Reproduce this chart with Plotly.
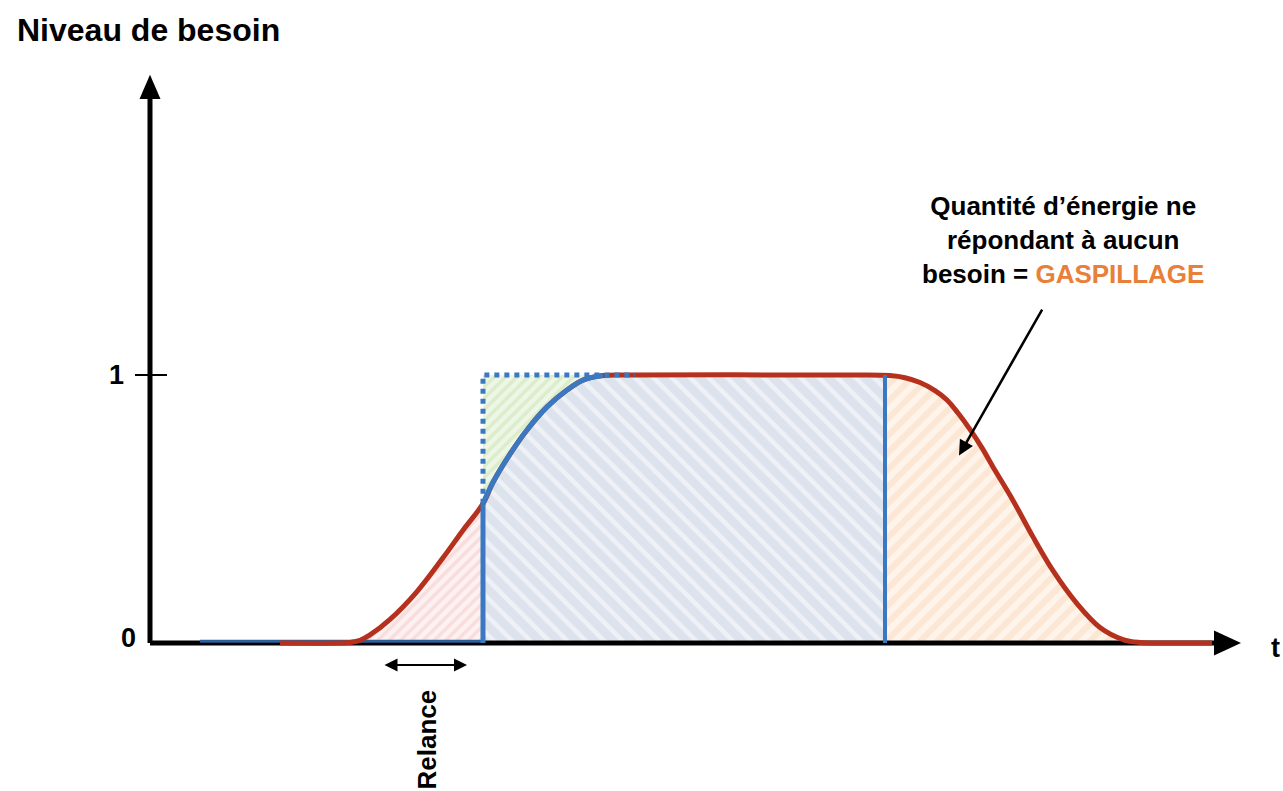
import plotly.graph_objects as go

# ---- data (time t in arbitrary units, level 0..1) ----
demand_t = [1.30, 1.90, 2.00, 2.10, 2.20, 2.40, 2.67, 2.93, 3.13, 3.33, 3.43, 3.60, 3.77, 3.97, 4.17, 4.33, 4.53,
            4.80, 6.90, 7.10, 7.40, 7.55, 7.70, 7.85, 7.97, 8.08, 8.20, 8.32, 8.43, 8.63, 8.83, 9.03, 9.27,
            9.50, 9.73, 9.90, 10.10, 10.62]
demand_level = [0, 0, 0.002, 0.010, 0.030, 0.088, 0.192, 0.318, 0.421, 0.52, 0.600, 0.705, 0.795, 0.881, 0.944,
                0.981, 0.998, 1.0, 1.0, 1.0, 0.998, 0.990, 0.972, 0.942, 0.907, 0.858, 0.797, 0.728, 0.657,
                0.532, 0.396, 0.270, 0.147, 0.058, 0.013, 0.002, 0, 0]

baseline_t = [0.50, 3.33]          # supply flat at zero before relance
relance_t = [2.33, 3.17]           # "Relance" double arrow span
rise_start_t = 1.90                # demand starts rising
supply_on_t = 3.33                 # supply switches on
supply_full_t = 4.53               # supply reaches full level
supply_off_t = 7.35                # supply switched off
demand_end_t = 10.10               # demand back to zero
ideal_end_t = 4.85                 # dotted ideal supply end
tick_levels = [0, 1]
tick_labels = ["0", "1"]

RED = "#b5311e"
BLUE = "#3b78c2"
FONT = "Liberation Sans, Arial, Helvetica, sans-serif"
SMOOTH = 1.0

def subset(t0, t1):
    xs, ys = [], []
    for t, v in zip(demand_t, demand_level):
        if t0 <= t <= t1:
            xs.append(t)
            ys.append(v)
    return xs, ys

fig = go.Figure()

# pink fill (demand not yet served)
px_, py_ = subset(rise_start_t, supply_on_t)
fig.add_trace(go.Scatter(x=px_, y=py_, mode="lines", line=dict(width=0, shape="spline", smoothing=SMOOTH),
                         fill="tozeroy",
                         fillpattern=dict(shape="/", bgcolor="#fdf1f1", fgcolor="#f5caca", size=8, solidity=0.45),
                         hoverinfo="skip", showlegend=False))

# green fill (between ideal supply and real supply)
sx, sy = subset(supply_on_t, supply_full_t)
fig.add_trace(go.Scatter(x=sx, y=sy, mode="lines", line=dict(width=0, shape="spline", smoothing=SMOOTH),
                         hoverinfo="skip", showlegend=False))
fig.add_trace(go.Scatter(x=[supply_on_t, supply_full_t], y=[1, 1], mode="lines", line=dict(width=0),
                         fill="tonexty",
                         fillpattern=dict(shape="/", bgcolor="#eef7e6", fgcolor="#c9e3b3", size=8, solidity=0.45),
                         hoverinfo="skip", showlegend=False))

# blue-gray fill (useful supply)
bx, by = subset(supply_on_t, supply_off_t)
bx = bx + [supply_off_t]
by = by + [1.0]
fig.add_trace(go.Scatter(x=bx, y=by, mode="lines", line=dict(width=0, shape="spline", smoothing=SMOOTH),
                         fill="tozeroy",
                         fillpattern=dict(shape="\\", bgcolor="#dde3ed", fgcolor="#ffffff", size=13, solidity=0.35),
                         hoverinfo="skip", showlegend=False))

# orange fill (waste)
ox, oy = subset(supply_off_t, demand_end_t)
ox = [supply_off_t] + ox
oy = [1.0] + oy
fig.add_trace(go.Scatter(x=ox, y=oy, mode="lines", line=dict(width=0, shape="spline", smoothing=SMOOTH),
                         fill="tozeroy",
                         fillpattern=dict(shape="/", bgcolor="#fff4ea", fgcolor="#f8d9bd", size=12, solidity=0.5),
                         hoverinfo="skip", showlegend=False))

# axes (drawn as lines)
fig.add_trace(go.Scatter(x=[0, 10.66], y=[0, 0], mode="lines", line=dict(color="black", width=5),
                         hoverinfo="skip", showlegend=False))
fig.add_trace(go.Scatter(x=[0, 0], y=[0, 2.04], mode="lines", line=dict(color="black", width=5),
                         hoverinfo="skip", showlegend=False))
fig.add_trace(go.Scatter(x=[-0.15, 0.17], y=[1, 1], mode="lines", line=dict(color="black", width=2),
                         hoverinfo="skip", showlegend=False))

# supply baseline before relance
fig.add_trace(go.Scatter(x=baseline_t, y=[0.007, 0.007], mode="lines", line=dict(color="#2f5f9a", width=3),
                         hoverinfo="skip", showlegend=False))

# demand curve (red)
fig.add_trace(go.Scatter(x=demand_t, y=demand_level, mode="lines",
                         line=dict(color=RED, width=5, shape="spline", smoothing=SMOOTH),
                         hoverinfo="skip", showlegend=False))

# supply curve (blue)
fig.add_trace(go.Scatter(x=sx, y=sy, mode="lines", line=dict(color=BLUE, width=5, shape="spline", smoothing=SMOOTH),
                         hoverinfo="skip", showlegend=False))
fig.add_trace(go.Scatter(x=[supply_on_t, supply_on_t], y=[0, sy[0]], mode="lines",
                         line=dict(color=BLUE, width=5), hoverinfo="skip", showlegend=False))
fig.add_trace(go.Scatter(x=[supply_off_t, supply_off_t], y=[0, 1], mode="lines",
                         line=dict(color=BLUE, width=4), hoverinfo="skip", showlegend=False))
# ideal supply (dotted)
fig.add_trace(go.Scatter(x=[supply_on_t, supply_on_t, ideal_end_t], y=[sy[0], 1, 1], mode="lines",
                         line=dict(color=BLUE, width=5, dash="dot"), hoverinfo="skip", showlegend=False))

# arrow heads of axes
shapes = [
    dict(type="path", path="M -0.105 2.03 L 0.105 2.03 L 0 2.12 Z", fillcolor="black", line=dict(width=0),
         xref="x", yref="y", layer="above"),
    dict(type="path", path="M 10.64 -0.047 L 10.64 0.047 L 10.91 0 Z", fillcolor="black", line=dict(width=0),
         xref="x", yref="y", layer="above"),
]

annotations = [
    dict(x=-1.35, y=2.287, text="Niveau de besoin", showarrow=False, xanchor="left", yanchor="middle",
         font=dict(family=FONT, size=32, color="black", weight="bold")),
    dict(x=11.25, y=-0.02, text="t", showarrow=False, xanchor="center", yanchor="middle",
         font=dict(family=FONT, size=27, color="black", weight="bold")),
    dict(x=-0.34, y=tick_levels[1], text=tick_labels[1], showarrow=False, xanchor="center", yanchor="middle",
         font=dict(family=FONT, size=27, color="black", weight="bold")),
    dict(x=-0.22, y=0.02, text=tick_labels[0], showarrow=False, xanchor="center", yanchor="middle",
         font=dict(family=FONT, size=27, color="black", weight="bold")),
    dict(x=9.13, y=1.504,
         text="Quantité d’énergie ne<br>répondant à aucun<br>besoin = <span style='color:#e8803a'>GASPILLAGE</span>",
         showarrow=False, xanchor="center", yanchor="middle", align="center",
         font=dict(family=FONT, size=26, color="black", weight="bold")),
    dict(x=8.09, y=0.70, ax=8.93, ay=1.25, axref="x", ayref="y", xref="x", yref="y", text="",
         showarrow=True, arrowhead=2, arrowsize=1.2, arrowwidth=2.5, arrowcolor="black"),
    dict(x=relance_t[1], y=-0.082, ax=relance_t[0], ay=-0.082, axref="x", ayref="y", xref="x", yref="y", text="",
         showarrow=True, arrowhead=2, startarrowhead=2, arrowside="end+start", arrowsize=1.3, startarrowsize=1.3,
         arrowwidth=2, arrowcolor="black"),
    dict(x=2.77, y=-0.36, text="Relance", showarrow=False, textangle=-90, xanchor="center", yanchor="middle",
         font=dict(family=FONT, size=26, color="black", weight="bold")),
]

fig.update_layout(
    width=1283, height=791, margin=dict(l=0, r=0, t=0, b=0),
    paper_bgcolor="white", plot_bgcolor="white",
    xaxis=dict(range=[-1.5, 11.33], visible=False, fixedrange=True),
    yaxis=dict(range=[-0.5522, 2.3993], visible=False, fixedrange=True),
    shapes=shapes, annotations=annotations, showlegend=False,
)

fig.write_html("out.html", config={"displayModeBar": False},
               post_script="document.body.style.margin='0';document.body.style.overflow='hidden';")
